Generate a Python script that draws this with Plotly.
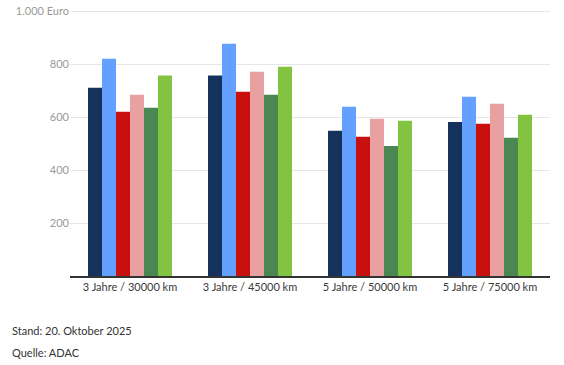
import plotly.graph_objects as go

categories = ["3 Jahre / 30000 km", "3 Jahre / 45000 km", "5 Jahre / 50000 km", "5 Jahre / 75000 km"]
series_names = ["Serie 1", "Serie 2", "Serie 3", "Serie 4", "Serie 5", "Serie 6"]
s1 = [712, 758, 549, 583]
s2 = [822, 879, 640, 678]
s3 = [621, 697, 527, 576]
s4 = [686, 773, 595, 652]
s5 = [636, 686, 492, 523]
s6 = [758, 792, 587, 610]
series_values = [s1, s2, s3, s4, s5, s6]
colors = ["#14325C", "#64A0FF", "#C8100F", "#E8A0A0", "#4A8752", "#82C341"]
tick_vals = [200, 400, 600, 800, 1000]
tick_text = ["200", "400", "600", "800", "1.000 Euro"]

fig = go.Figure()
for name, vals, c in zip(series_names, series_values, colors):
    fig.add_trace(go.Bar(x=categories, y=vals, name=name, marker=dict(color=c, line=dict(width=0)),
                         showlegend=False))

fig.update_layout(
    width=564, height=365,
    margin=dict(l=70, r=14, t=9.36, b=89, autoexpand=False),
    barmode="group", bargap=0.3, bargroupgap=0,
    plot_bgcolor="white", paper_bgcolor="white",
    font=dict(family="Lato, Open Sans, sans-serif", size=11, color="#333333"),
    xaxis=dict(showgrid=False, showline=True, linecolor="#333333", linewidth=1.5,
               tickfont=dict(size=11, color="#3A3A3A"), ticks="", fixedrange=True,
               automargin=False),
    yaxis=dict(range=[0, 1010], tickvals=tick_vals, ticktext=tick_text, showgrid=True,
               gridcolor="#E6E6E6", gridwidth=1, zeroline=False, showline=False,
               tickfont=dict(size=11, color="#999999"), ticks="", fixedrange=True,
               automargin=False),
    annotations=[
        dict(text="Stand: 20. Oktober 2025", xref="paper", yref="paper", x=-0.125, y=-0.2025,
             xanchor="left", yanchor="middle", showarrow=False, font=dict(size=11, color="#333333")),
        dict(text="Quelle: ADAC", xref="paper", yref="paper", x=-0.125, y=-0.285,
             xanchor="left", yanchor="middle", showarrow=False, font=dict(size=11, color="#333333")),
    ],
)
fig.write_html("out.html", config={"displayModeBar": False},
               post_script="document.body.style.margin='0';document.body.style.overflow='hidden';")
